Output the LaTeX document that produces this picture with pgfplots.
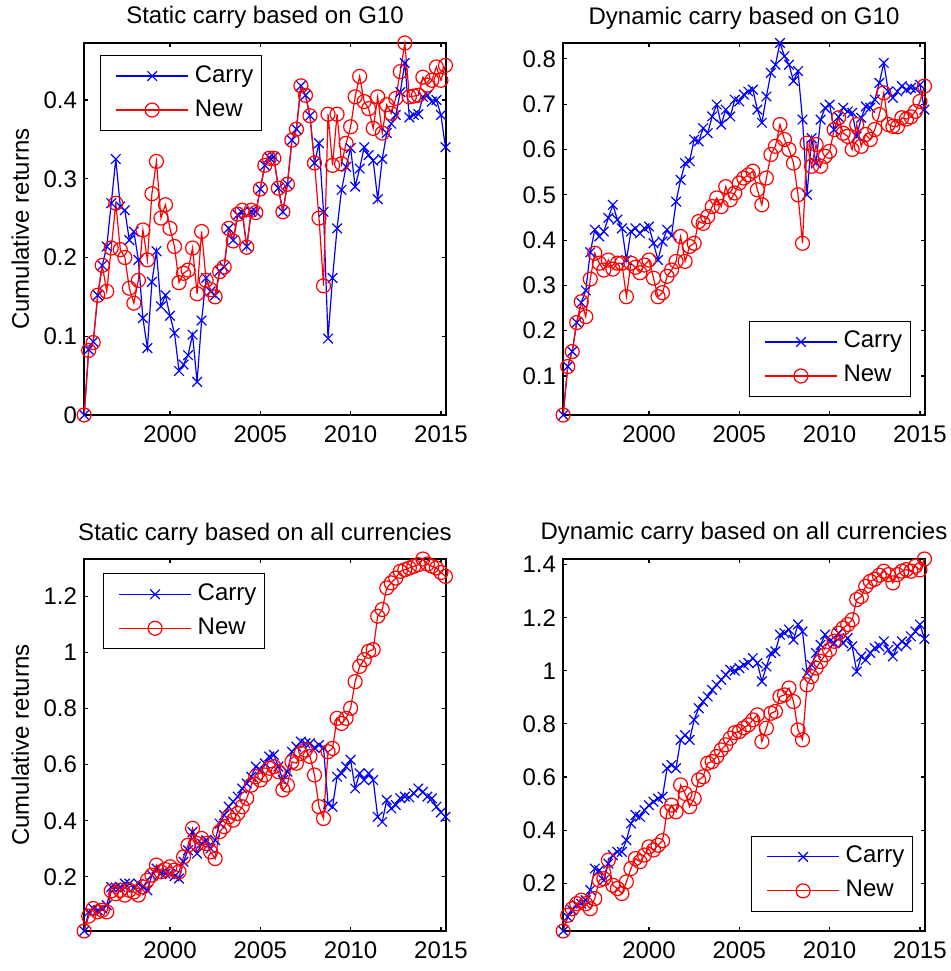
\documentclass[border=0pt]{standalone}
\usepackage{fontspec}
\setmainfont{Liberation Sans}
\usepackage{pgfplots}
\usepackage{pgfplotstable}
\pgfplotsset{compat=1.18}

% Quarterly cumulative returns: t = date (years), c = Carry, n = New
\pgfplotstableread{
t c n
1995.25 0 0
1995.5 0.083 0.082
1995.75 0.093 0.092
1996 0.152 0.152
1996.25 0.19 0.19
1996.5 0.214 0.157
1996.75 0.269 0.212
1997 0.325 0.269
1997.25 0.265 0.21
1997.5 0.26 0.2
1997.75 0.222 0.161
1998 0.233 0.142
1998.25 0.197 0.171
1998.5 0.123 0.235
1998.75 0.085 0.197
1999 0.169 0.281
1999.25 0.208 0.322
1999.5 0.138 0.25
1999.75 0.152 0.267
2000 0.126 0.237
2000.25 0.104 0.214
2000.5 0.056 0.168
2000.75 0.064 0.18
2001 0.076 0.184
2001.25 0.102 0.212
2001.5 0.042 0.154
2001.75 0.12 0.233
2002 0.174 0.171
2002.25 0.157 0.159
2002.5 0.152 0.15
2002.75 0.183 0.182
2003 0.188 0.188
2003.25 0.237 0.237
2003.5 0.222 0.221
2003.75 0.254 0.255
2004 0.257 0.26
2004.25 0.214 0.213
2004.5 0.258 0.26
2004.75 0.258 0.257
2005 0.287 0.287
2005.25 0.317 0.317
2005.5 0.327 0.326
2005.75 0.328 0.326
2006 0.288 0.288
2006.25 0.258 0.258
2006.5 0.293 0.293
2006.75 0.349 0.349
2007 0.363 0.363
2007.25 0.418 0.418
2007.5 0.406 0.406
2007.75 0.38 0.38
2008 0.32 0.32
2008.25 0.345 0.25
2008.5 0.258 0.164
2008.75 0.097 0.382
2009 0.174 0.317
2009.25 0.237 0.382
2009.5 0.286 0.319
2009.75 0.315 0.345
2010 0.339 0.366
2010.25 0.29 0.404
2010.5 0.313 0.43
2010.75 0.34 0.398
2011 0.33 0.389
2011.25 0.323 0.364
2011.5 0.274 0.404
2011.75 0.325 0.358
2012 0.358 0.394
2012.25 0.37 0.383
2012.5 0.381 0.402
2012.75 0.41 0.436
2013 0.447 0.4724
2013.25 0.378 0.404
2013.5 0.381 0.405
2013.75 0.382 0.406
2014 0.404 0.429
2014.25 0.406 0.419
2014.5 0.398 0.425
2014.75 0.4 0.442
2015 0.381 0.425
2015.25 0.34 0.444
}\staticGten

\pgfplotstableread{
t c n
1995.25 0.014 0.014
1995.5 0.121 0.121
1995.75 0.154 0.154
1996 0.218 0.218
1996.25 0.262 0.264
1996.5 0.289 0.231
1996.75 0.373 0.314
1997 0.423 0.371
1997.25 0.408 0.349
1997.5 0.419 0.334
1997.75 0.449 0.356
1998 0.478 0.336
1998.25 0.445 0.349
1998.5 0.426 0.349
1998.75 0.356 0.275
1999 0.419 0.349
1999.25 0.426 0.34
1999.5 0.415 0.328
1999.75 0.426 0.345
2000 0.43 0.356
2000.25 0.393 0.316
2000.5 0.356 0.275
2000.75 0.397 0.284
2001 0.423 0.32
2001.25 0.41 0.334
2001.5 0.485 0.353
2001.75 0.533 0.408
2002 0.57 0.353
2002.25 0.574 0.386
2002.5 0.622 0.393
2002.75 0.618 0.441
2003 0.647 0.437
2003.25 0.636 0.452
2003.5 0.673 0.474
2003.75 0.699 0.493
2004 0.655 0.474
2004.25 0.688 0.518
2004.5 0.673 0.489
2004.75 0.71 0.504
2005 0.706 0.526
2005.25 0.721 0.537
2005.5 0.728 0.544
2005.75 0.732 0.552
2006 0.688 0.511
2006.25 0.659 0.478
2006.5 0.717 0.537
2006.75 0.769 0.589
2007 0.787 0.607
2007.25 0.835 0.655
2007.5 0.806 0.622
2007.75 0.787 0.6
2008 0.751 0.57
2008.25 0.773 0.5
2008.5 0.666 0.393
2008.75 0.5 0.614
2009 0.625 0.563
2009.25 0.57 0.611
2009.5 0.666 0.563
2009.75 0.692 0.585
2010 0.699 0.596
2010.25 0.644 0.644
2010.5 0.672 0.67
2010.75 0.692 0.636
2011 0.684 0.629
2011.25 0.681 0.6
2011.5 0.629 0.655
2011.75 0.67 0.607
2012 0.695 0.633
2012.25 0.692 0.622
2012.5 0.71 0.644
2012.75 0.747 0.677
2013 0.791 0.725
2013.25 0.728 0.655
2013.5 0.714 0.651
2013.75 0.728 0.65
2014 0.74 0.67
2014.25 0.732 0.667
2014.5 0.736 0.672
2014.75 0.734 0.684
2015 0.743 0.706
2015.25 0.688 0.74
}\dynamicGten

\pgfplotstableread{
t c n
1995.25 0.007 0.007
1995.5 0.075 0.06
1995.75 0.087 0.087
1996 0.081 0.075
1996.25 0.087 0.081
1996.5 0.099 0.075
1996.75 0.164 0.15
1997 0.162 0.14
1997.25 0.164 0.152
1997.5 0.176 0.135
1997.75 0.176 0.152
1998 0.162 0.146
1998.25 0.176 0.135
1998.5 0.164 0.164
1998.75 0.152 0.188
1999 0.206 0.206
1999.25 0.23 0.242
1999.5 0.212 0.218
1999.75 0.212 0.226
2000 0.21 0.236
2000.25 0.202 0.224
2000.5 0.194 0.218
2000.75 0.254 0.271
2001 0.295 0.313
2001.25 0.36 0.373
2001.5 0.283 0.319
2001.75 0.319 0.337
2002 0.331 0.319
2002.25 0.301 0.289
2002.5 0.331 0.265
2002.75 0.39 0.361
2003 0.42 0.379
2003.25 0.45 0.414
2003.5 0.468 0.402
2003.75 0.486 0.426
2004 0.515 0.45
2004.25 0.533 0.48
2004.5 0.557 0.527
2004.75 0.593 0.557
2005 0.581 0.545
2005.25 0.605 0.563
2005.5 0.629 0.587
2005.75 0.635 0.593
2006 0.593 0.575
2006.25 0.545 0.51
2006.5 0.575 0.527
2006.75 0.646 0.61
2007 0.664 0.605
2007.25 0.682 0.64
2007.5 0.676 0.652
2007.75 0.676 0.629
2008 0.66 0.563
2008.25 0.67 0.45
2008.5 0.66 0.408
2008.75 0.46 0.646
2009 0.45 0.658
2009.25 0.557 0.765
2009.5 0.569 0.747
2009.75 0.593 0.765
2010 0.617 0.801
2010.25 0.515 0.896
2010.5 0.569 0.95
2010.75 0.545 0.974
2011 0.569 1.004
2011.25 0.545 1.01
2011.5 0.414 1.129
2011.75 0.396 1.153
2012 0.474 1.23
2012.25 0.444 1.248
2012.5 0.456 1.265
2012.75 0.48 1.289
2013 0.486 1.295
2013.25 0.483 1.301
2013.5 0.498 1.307
2013.75 0.515 1.313
2014 0.503 1.333
2014.25 0.486 1.315
2014.5 0.48 1.307
2014.75 0.45 1.301
2015 0.43 1.285
2015.25 0.414 1.271
}\staticAll

\pgfplotstableread{
t c n
1995.25 0.02 0.02
1995.5 0.073 0.079
1995.75 0.098 0.104
1996 0.117 0.123
1996.25 0.123 0.136
1996.5 0.136 0.123
1996.75 0.174 0.104
1997 0.255 0.142
1997.25 0.249 0.211
1997.5 0.211 0.217
1997.75 0.274 0.287
1998 0.306 0.192
1998.25 0.318 0.18
1998.5 0.318 0.161
1998.75 0.362 0.205
1999 0.425 0.255
1999.25 0.457 0.293
1999.5 0.45 0.281
1999.75 0.475 0.306
2000 0.494 0.337
2000.25 0.507 0.325
2000.5 0.519 0.343
2000.75 0.526 0.36
2001 0.633 0.469
2001.25 0.645 0.494
2001.5 0.633 0.469
2001.75 0.74 0.57
2002 0.758 0.538
2002.25 0.74 0.488
2002.5 0.815 0.519
2002.75 0.859 0.589
2003 0.884 0.601
2003.25 0.903 0.652
2003.5 0.928 0.658
2003.75 0.947 0.677
2004 0.966 0.702
2004.25 0.985 0.721
2004.5 1.004 0.746
2004.75 1.0 0.767
2005 1.01 0.771
2005.25 1.022 0.785
2005.5 1.03 0.796
2005.75 1.048 0.815
2006 1.029 0.834
2006.25 0.96 0.733
2006.5 1.016 0.784
2006.75 1.067 0.84
2007 1.073 0.847
2007.25 1.136 0.903
2007.5 1.142 0.909
2007.75 1.155 0.935
2008 1.117 0.884
2008.25 1.174 0.777
2008.5 1.148 0.74
2008.75 0.991 0.947
2009 1.022 0.978
2009.25 1.067 1.01
2009.5 1.098 1.035
2009.75 1.136 1.06
2010 1.111 1.079
2010.25 1.104 1.111
2010.5 1.142 1.142
2010.75 1.104 1.161
2011 1.123 1.174
2011.25 1.092 1.192
2011.5 0.997 1.268
2011.75 1.054 1.28
2012 1.041 1.318
2012.25 1.067 1.337
2012.5 1.086 1.345
2012.75 1.092 1.36
2013 1.111 1.375
2013.25 1.079 1.362
2013.5 1.054 1.331
2013.75 1.092 1.362
2014 1.111 1.375
2014.25 1.098 1.381
2014.5 1.13 1.375
2014.75 1.148 1.394
2015 1.174 1.38
2015.25 1.12 1.421
}\dynamicAll

\newcommand\txt{\fontsize{12}{14}\selectfont}

\pgfplotsset{
  panel/.style={
    scale only axis, width=181pt, height=186pt,
    clip=false,
    xmin=1995.24, xmax=2015.28,
    xtick={2000,2005,2010,2015},
    /pgf/number format/1000 sep={},
    /pgf/number format/assume math mode=true,
    font=\txt,
    tick label style={font=\txt},
    xticklabel style={yshift=-2pt},
    axis line style={black, line width=0.65pt},
    every tick/.style={black, line width=0.6pt},
    major tick length=1.9pt,
    every axis title/.style={at={(0.5,1)}, anchor=base, yshift=9.5pt, font=\txt},
    every axis y label/.style={at={(axis description cs:-0.152,0.5)}, rotate=90, anchor=base, font=\txt},
    legend cell align=left,
    legend style={
      draw=black, line width=0.65pt, fill=white,
      inner xsep=4pt, inner ysep=4.25pt,
      row sep=5pt, column sep=3pt,
      nodes={inner sep=0pt, text height=9pt, text depth=3pt, anchor=west},
      font=\txt,
    },
    legend image code/.code={
      \path (-3.5pt,0pt);
      \draw[mark repeat=2,mark phase=2,##1] plot coordinates {(0pt,0pt) (18pt,0pt) (36pt,0pt)};
    },
  },
  carry/.style={blue, line width=0.6pt, mark=x, mark size=3.4pt, mark options={solid, line width=0.6pt}},
  new/.style={red, line width=0.6pt, mark=o, mark size=3.5pt, mark options={solid, line width=0.6pt}},
}

\begin{document}
\begin{tikzpicture}
\useasboundingbox (0,0) rectangle (475.5pt,485.5pt);

% Static carry, G10
\begin{axis}[panel, at={(42pt,278pt)}, anchor=south west,
  title={Static carry based on G10},
  ylabel={Cumulative returns},
  ymin=0, ymax=0.4724,
  ytick={0,0.1,0.2,0.3,0.4},
  legend style={at={(0.044,0.968)}, anchor=north west}]
\addplot[carry] table[x=t, y=c] {\staticGten};
\addplot[new] table[x=t, y=n] {\staticGten};
\legend{Carry,New}
\end{axis}

% Dynamic carry, G10
\begin{axis}[panel, at={(281.5pt,278pt)}, anchor=south west,
  title={Dynamic carry based on G10},
  ymin=0.014, ymax=0.835,
  ytick={0.1,0.2,0.3,0.4,0.5,0.6,0.7,0.8},
  legend style={at={(0.961,0.048)}, anchor=south east}]
\addplot[carry] table[x=t, y=c] {\dynamicGten};
\addplot[new] table[x=t, y=n] {\dynamicGten};
\legend{Carry,New}
\end{axis}

% Static carry, all currencies
\begin{axis}[panel, at={(42pt,20pt)}, anchor=south west,
  title={Static carry based on all currencies},
  ylabel={Cumulative returns},
  ymin=0.007, ymax=1.333,
  ytick={0.2,0.4,0.6,0.8,1,1.2},
  legend style={at={(0.052,0.962)}, anchor=north west}]
\addplot[carry] table[x=t, y=c] {\staticAll};
\addplot[new] table[x=t, y=n] {\staticAll};
\legend{Carry,New}
\end{axis}

% Dynamic carry, all currencies
\begin{axis}[panel, at={(281.5pt,20pt)}, anchor=south west,
  title={Dynamic carry based on all currencies},
  ymin=0.02, ymax=1.421,
  ytick={0.2,0.4,0.6,0.8,1,1.2,1.4},
  legend style={at={(0.967,0.051)}, anchor=south east}]
\addplot[carry] table[x=t, y=c] {\dynamicAll};
\addplot[new] table[x=t, y=n] {\dynamicAll};
\legend{Carry,New}
\end{axis}
\end{tikzpicture}
\end{document}
